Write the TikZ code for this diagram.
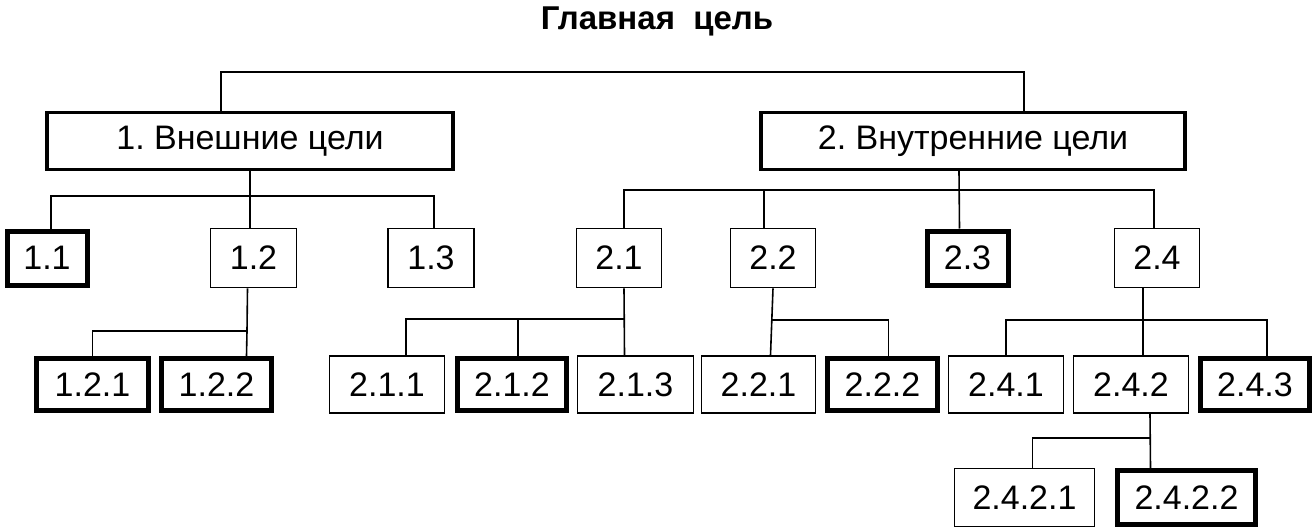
\documentclass[tikz,border=0pt]{standalone}
\usepackage{fontspec}
\setmainfont{Liberation Sans}
\usetikzlibrary{positioning}
\tikzset{
	goal/.style={draw, line width=1.6pt, inner sep=0pt, minimum height=57pt, font=\fontsize{34}{34}\selectfont},
	boldgoal/.style={goal, line width=5pt},
	maingoal/.style={goal, line width=3.2pt}
}

\begin{document}
\begin{tikzpicture}[x=1pt, y=-1pt, line width=1.6pt]
		%%%%% START %%%%%
		\useasboundingbox (0,0) rectangle (1315,532);
		
		\node (title) at (657,21) {\fontsize{33}{33}\selectfont\bfseries Главная\ \ цель};
		
		% level 1
		\node[maingoal, minimum width=406pt] (n1) at (250,141) {1.\ Внешние\ цели};
		\node[maingoal, minimum width=424pt] (n2) at (973,141) {2.\ Внутренние\ цели};
		
		% level 2
		\node[boldgoal, minimum width=80pt, minimum height=54pt] (n11) at (47,258) {1.1};
		\node[goal, minimum width=86pt, minimum height=59pt] (n12) at (253.5,258) {1.2};
		\node[goal, minimum width=86pt, minimum height=59pt] (n13) at (431,258) {1.3};
		\node[goal, minimum width=85pt, minimum height=59pt] (n21) at (619,258) {2.1};
		\node[goal, minimum width=85pt, minimum height=59pt] (n22) at (773,258) {2.2};
		\node[boldgoal, minimum width=81pt, minimum height=54pt] (n23) at (967.5,258) {2.3};
		\node[goal, minimum width=85pt, minimum height=59pt] (n24) at (1157,258) {2.4};
		
		% level 3
		\node[boldgoal, minimum width=112pt, minimum height=52pt] (n121) at (92.5,384.5) {1.2.1};
		\node[boldgoal, minimum width=110pt, minimum height=52pt] (n122) at (216.5,384.5) {1.2.2};
		\node[goal, minimum width=115pt] (n211) at (387,384.5) {2.1.1};
		\node[boldgoal, minimum width=109pt, minimum height=52pt] (n212) at (512,384.5) {2.1.2};
		\node[goal, minimum width=116pt] (n213) at (635.5,384.5) {2.1.3};
		\node[goal, minimum width=114pt] (n221) at (758.5,384.5) {2.2.1};
		\node[boldgoal, minimum width=110pt, minimum height=52pt] (n222) at (882.5,384.5) {2.2.2};
		\node[goal, minimum width=115pt] (n241) at (1006,384.5) {2.4.1};
		\node[goal, minimum width=115pt] (n242) at (1131,384.5) {2.4.2};
		\node[boldgoal, minimum width=109pt, minimum height=52pt] (n243) at (1255,384.5) {2.4.3};
		
		% level 4
		\node[goal, minimum width=140pt, minimum height=58pt] (n2421) at (1024.5,497.5) {2.4.2.1};
		\node[boldgoal, minimum width=138pt, minimum height=54pt] (n2422) at (1186.5,497.5) {2.4.2.2};
		
		% branch points
		\coordinate (b0) at (657,72);
		\coordinate (b1) at (250,196);
		\coordinate (b2) at (959,190);
		\coordinate (b12) at (247,331);
		\coordinate (b21) at (624,319);
		\coordinate (b22) at (771,320);
		\coordinate (b24) at (1143,320);
		\coordinate (b242) at (1150,438);
		
		% connectors
		\draw ([xshift=-29pt]n1.north) |- (b0) -| ([xshift=51pt]n2.north);
		
		\draw ([xshift=4pt]n11.north) |- (b1) -| ([xshift=3pt]n13.north);
		\draw (n1.south) -- (b1) -- (b1 |- n12.north);
		
		\draw ([xshift=5pt]n21.north) |- (b2) -| ([xshift=-3pt]n24.north);
		\draw ([xshift=-14pt]n2.south) -- ([xshift=-8pt]n23.north);
		\draw ([xshift=-9pt]n22.north) |- (b2);
		
		\draw ([xshift=-6pt]n12.south) -- (b12) -- ([xshift=30pt]n122.north);
		\draw (n121.north) |- (b12);
		
		\draw ([xshift=5pt]n21.south) -- ([xshift=-11pt]n213.north);
		\draw ([xshift=19pt]n211.north) |- (b21);
		\draw ([xshift=6pt]n212.north) |- (b21);
		
		\draw (n22.south) -- ([xshift=12pt]n221.north);
		\draw (b22) -| ([xshift=6pt]n222.north);
		
		\draw ([xshift=-14pt]n24.south) -- ([xshift=12pt]n242.north);
		\draw (n241.north) |- (b24) -| ([xshift=12pt]n243.north);
		
		\draw ([xshift=19pt]n242.south) -- ([xshift=-36pt]n2422.north);
		\draw ([xshift=8pt]n2421.north) |- (b242);
		
		%%%%% END %%%%%
\end{tikzpicture}
\end{document}
